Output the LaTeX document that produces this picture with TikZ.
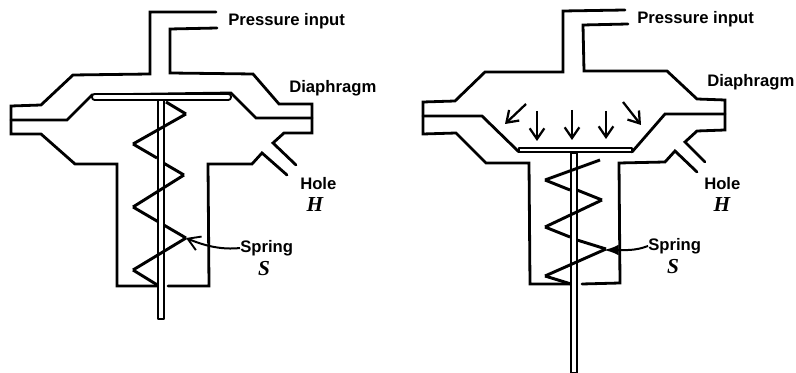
\documentclass[tikz,border=0pt]{standalone}
\usepackage{fontspec}
\setmainfont{Liberation Sans}
\newfontfamily\sym[Ligatures=TeX]{Liberation Serif}
\usetikzlibrary{arrows.meta}
\tikzset{
 wall/.style={line width=2.1pt,line join=miter,line cap=round,black},
 thin wall/.style={line width=1.4pt,line join=round,black},
 coil/.style={line width=2.2pt,line join=miter,line cap=butt,black},
 lbl/.style={inner sep=0pt,anchor=west,font=\bfseries\fontsize{12.5}{15}\selectfont},
 var/.style={inner sep=0pt,font=\sym\bfseries\itshape\fontsize{16}{17}\selectfont},
 flow/.style={line width=1.7pt,-{Straight Barb[length=8pt,width=11pt,line width=1.7pt]}},
 lead/.style={line width=1.5pt,-{Straight Barb[length=9pt,width=11pt,line width=1.4pt]}},
 leadb/.style={line width=1.5pt,-{Latex[length=11pt,width=8pt]}},
}
\begin{document}
\begin{tikzpicture}[x=0.75pt,y=-0.75pt]
\useasboundingbox (0,0) rectangle (796,373);
% ---------- left device
\draw[wall] (216,12) -- (150,12) -- (150,74) -- (73,75) -- (41,105) -- (11,106) -- (11,134) -- (41,134) -- (75,164) -- (117,164) -- (117,286) -- (157,286);
\draw[wall] (168,286) -- (209,286) -- (208,164) -- (252,164) -- (262,153) -- (287,175);
\draw[wall] (296,165) -- (273,143) -- (284,133) -- (312,133) -- (312,104) -- (279,104) -- (253,74) -- (170,73) -- (170,29) -- (217,28);
\draw[wall] (11,120) -- (67,120) -- (92,95) -- (231,93) -- (256,118) -- (312,118);
\draw[thin wall,fill=white,rounded corners=2pt] (92,94) rectangle (231,100);
% spring behind
\draw[coil] (166,102) -- (186,114);
\draw[coil] (133,144) -- (157,158);
\draw[coil] (160,161) -- (184,175);
\draw[coil] (133,207) -- (186,238);
\draw[coil] (133,270) -- (159,286);
% rod
\draw[thin wall,fill=white] (158,100) rectangle (164,319);
% spring in front
\draw[coil] (186,114) -- (133,144);
\draw[coil] (184,175) -- (133,207);
\draw[coil] (186,238) -- (133,270);
% ---------- right device
\draw[wall] (625,10) -- (563,11) -- (563,72) -- (485,72) -- (455,101) -- (423,102) -- (423,134) -- (456,133) -- (486,163) -- (529,163) -- (530,284) -- (570,284);
\draw[wall] (582,284) -- (620,283) -- (619,163) -- (665,162) -- (675,151) -- (697,172);
\draw[wall] (705,162) -- (685,142) -- (697,131) -- (725,130) -- (725,100) -- (697,99) -- (667,71) -- (584,71) -- (583,25) -- (628,24);
\draw[wall] (423,116) -- (482,116) -- (519,152);
\draw[wall] (632,152) -- (665,114) -- (725,114);
\draw[thin wall,fill=white] (519,148) rectangle (632,152);
% spring behind
\draw[coil] (545,180) -- (570,190);
\draw[coil] (577,190) -- (602,200);
\draw[coil] (545,227) -- (570,237);
\draw[coil] (577,240) -- (606,249);
\draw[coil] (545,276) -- (571,284);
% rod
\draw[thin wall,fill=white] (571,153) rectangle (577,373);
% spring in front
\draw[coil] (600,160) -- (545,180);
\draw[coil] (602,200) -- (545,227);
\draw[coil] (606,249) -- (545,276);
% pressure arrows
\coordinate (a1s) at (526,104); \coordinate (a1e) at (505,124);
\coordinate (a2s) at (537,111); \coordinate (a2e) at (537,141);
\coordinate (a3s) at (572,110); \coordinate (a3e) at (572,140);
\coordinate (a4s) at (606,111); \coordinate (a4e) at (606,139);
\coordinate (a5s) at (623,102); \coordinate (a5e) at (641,125);
\draw[flow] (a1s) -- (a1e);
\draw[flow] (a2s) -- (a2e);
\draw[flow] (a3s) -- (a3e);
\draw[flow] (a4s) -- (a4e);
\draw[flow] (a5s) -- (a5e);
% ---------- labels left
\node[lbl] (p1) at (228,21) {Pressure input};
\node[lbl] (d1) at (289,88) {Diaphragm};
\node[lbl] (h1) at (300,184) {Hole};
\node[var] (hv1) at (315,205) {H};
\node[lbl] (s1) at (240,248) {Spring};
\node[var] (sv1) at (264,269) {S};
\coordinate (s1tip) at (186,238);
\draw[lead] (s1.west) .. controls (222,250) and (205,246) .. (s1tip);
% ---------- labels right
\node[lbl] (p2) at (637,19) {Pressure input};
\node[lbl] (d2) at (707,82) {Diaphragm};
\node[lbl] (h2) at (704,184) {Hole};
\node[var] (hv2) at (722,205) {H};
\node[lbl] (s2) at (648,246) {Spring};
\node[var] (sv2) at (673,267) {S};
\coordinate (s2tip) at (604,250);
\draw[leadb] (s2.west) .. controls (635,251) and (625,250) .. (s2tip);
\end{tikzpicture}
\end{document}
